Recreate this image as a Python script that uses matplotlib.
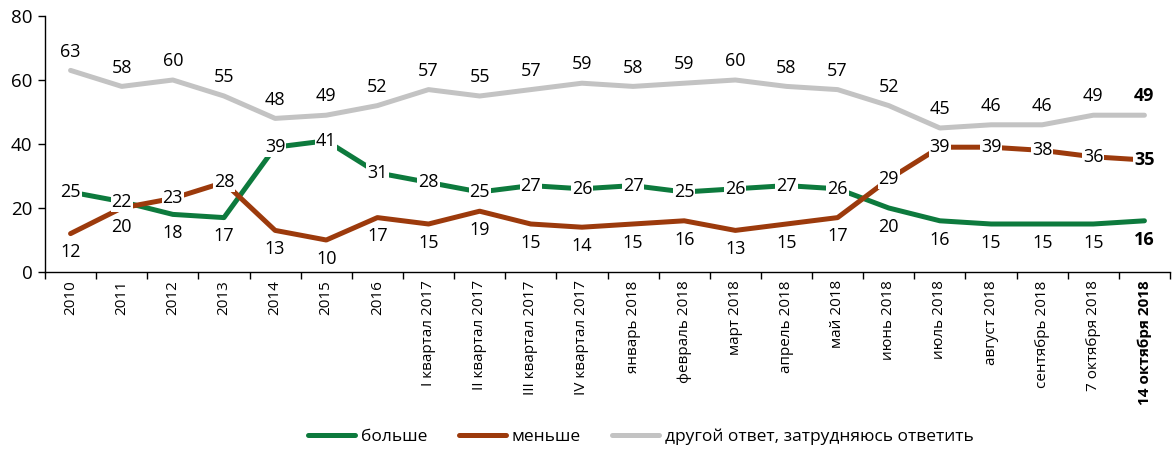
import matplotlib
matplotlib.use("Agg")
import matplotlib.pyplot as plt
from matplotlib import font_manager

# categories and series
categories = ["2010", "2011", "2012", "2013", "2014", "2015", "2016",
              "I квартал 2017", "II квартал 2017", "III квартал 2017", "IV квартал 2017",
              "январь 2018", "февраль 2018", "март 2018", "апрель 2018", "май 2018",
              "июнь 2018", "июль 2018", "август 2018", "сентябрь 2018",
              "7 октября 2018", "14 октября 2018"]
more = [25, 22, 18, 17, 39, 41, 31, 28, 25, 27, 26, 27, 25, 26, 27, 26, 20, 16, 15, 15, 15, 16]
less = [12, 20, 23, 28, 13, 10, 17, 15, 19, 15, 14, 15, 16, 13, 15, 17, 29, 39, 39, 38, 36, 35]
other = [63, 58, 60, 55, 48, 49, 52, 57, 55, 57, 59, 58, 59, 60, 58, 57, 52, 45, 46, 46, 49, 49]

# label placement per point: 'a' above, 'b' below, 'c' centered on the line
more_pos = "ccbbccccccccccccbbbbbb"
less_pos = "bbccbbbbbbbbbbbbcccccc"

names = [f.name for f in font_manager.fontManager.ttflist]
fam = "Liberation Sans Narrow" if "Liberation Sans Narrow" in names else "Open Sans"
plt.rcParams["font.family"] = [fam, "DejaVu Sans"]

GREEN = "#0d7a3d"
RED = "#9c3a0c"
GRAY = "#c3c3c3"

fig = plt.figure(figsize=(11.73, 4.51), dpi=100)
ax = fig.add_axes([45 / 1173, 1 - 272 / 451, 1125 / 1173, 256 / 451])

x = list(range(len(categories)))
ax.plot(x, other, color=GRAY, lw=3.6, solid_capstyle="round", label="другой ответ, затрудняюсь ответить", zorder=2)
ax.plot(x, more, color=GREEN, lw=3.6, solid_capstyle="round", label="больше", zorder=3)
ax.plot(x, less, color=RED, lw=3.6, solid_capstyle="round", label="меньше", zorder=3)

n = len(categories)


def put(i, v, pos):
    bold = i == n - 1
    kw = dict(ha="center", fontsize=13, fontweight="bold" if bold else "normal", zorder=5)
    if pos == "a":
        ax.annotate(str(v), (i, v), xytext=(0, 7), textcoords="offset points", va="bottom", **kw)
    elif pos == "b":
        ax.annotate(str(v), (i, v), xytext=(0, -7), textcoords="offset points", va="top", **kw)
    else:
        ax.annotate(str(v), (i, v), xytext=(0, 0), textcoords="offset points", va="center",
                    bbox=dict(boxstyle="square,pad=0.05", fc="white", ec="none"), **kw)


for i in x:
    put(i, other[i], "a")
    put(i, more[i], more_pos[i])
    put(i, less[i], less_pos[i])

ax.set_xlim(-0.5, n - 0.5)
ax.set_ylim(0, 80)
ax.set_yticks([0, 20, 40, 60, 80])
ax.tick_params(axis="y", labelsize=13.5, length=5, width=1, pad=4)
ax.set_xticks(x)
ax.set_xticklabels(categories, rotation=90, fontsize=11)
ax.get_xticklabels()[-1].set_fontweight("bold")
ax.tick_params(axis="x", length=0, pad=6)
ax.set_xticks([i - 0.5 for i in range(n + 1)], minor=True)
ax.tick_params(axis="x", which="minor", length=5, width=1)

for s in ["top", "right"]:
    ax.spines[s].set_visible(False)
ax.spines["left"].set_linewidth(1)
ax.spines["bottom"].set_linewidth(1)

h, l = ax.get_legend_handles_labels()
order = [1, 2, 0]
ax.legend([h[k] for k in order], [l[k] for k in order], loc="center", bbox_to_anchor=(641 / 1173, 1 - 437 / 451),
          bbox_transform=fig.transFigure, ncol=3, frameon=False, fontsize=12.5,
          handlelength=2.7, handletextpad=0.35, columnspacing=1.8)

fig.savefig("out.png", dpi=100)
